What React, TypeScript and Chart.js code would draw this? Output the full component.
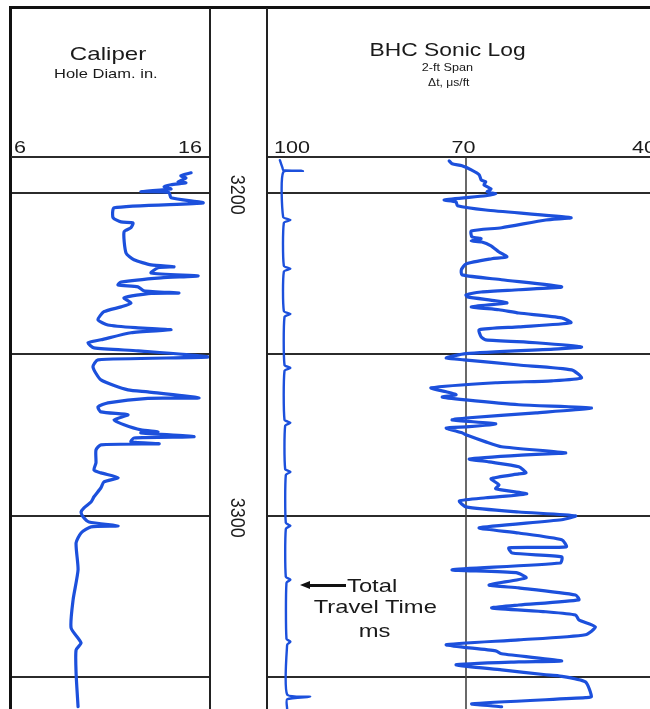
import React, { useEffect, useRef } from "react";
import { Chart, registerables } from "chart.js";

Chart.register(...registerables);

// ---------- data ----------
const DEPTH_TOP = 3188.9;
const DEPTH_BOTTOM = 3359.8;
const GRID_DEPTHS = [3200, 3250, 3300, 3350];
const DEPTH_LABELS = [3200, 3300];
const CALIPER_MIN = 6;
const CALIPER_MAX = 16;
const SONIC_LEFT = 100;
const SONIC_RIGHT_VISIBLE = 42.12; // track runs 100 -> 40, right edge cropped
const SONIC_GRID = [70];
const CALIPER_TICKS = ["6", "16"];
const SONIC_TICKS = ["100", "70", "40"];

const caliperDepth = [3193.8, 3194.7, 3195.4, 3196.6, 3196.9, 3197.5, 3198.1, 3198.8, 3199.6, 3199.9, 3201.5, 3203.1, 3204.6, 3207.7, 3209.0, 3209.3, 3210.8, 3212.1, 3218.6, 3220.7, 3222.3, 3222.9, 3223.2, 3224.8, 3225.7, 3226.3, 3227.6, 3228.5, 3229.1, 3230.3, 3231.0, 3231.1, 3232.5, 3234.1, 3235.3, 3236.8, 3239.3, 3240.9, 3241.8, 3242.4, 3243.3, 3245.5, 3246.4, 3248.0, 3248.9, 3250.8, 3251.7, 3253.9, 3257.9, 3261.0, 3261.6, 3263.5, 3263.6, 3265.0, 3266.3, 3267.8, 3268.7, 3270.3, 3271.8, 3273.4, 3274.0, 3274.3, 3275.5, 3275.9, 3277.1, 3277.7, 3278.0, 3279.6, 3283.6, 3285.8, 3286.7, 3288.2, 3289.5, 3291.3, 3294.1, 3295.7, 3297.5, 3298.8, 3300.3, 3301.9, 3303.1, 3303.4, 3305.3, 3308.4, 3316.7, 3326.0, 3334.7, 3339.3, 3341.5, 3348.6, 3359.1];
const caliperValue = [15.05, 14.54, 14.79, 14.39, 14.79, 14.04, 13.69, 14.04, 12.53, 13.94, 14.04, 15.65, 11.18, 11.13, 11.53, 12.13, 12.03, 11.68, 11.78, 12.18, 13.04, 14.19, 13.39, 13.04, 15.40, 13.54, 11.53, 11.38, 12.38, 12.68, 14.44, 13.04, 11.68, 12.03, 11.53, 10.67, 10.37, 10.87, 12.38, 14.04, 12.03, 10.52, 9.87, 10.17, 12.38, 15.90, 10.37, 10.12, 10.52, 11.88, 12.88, 15.45, 12.88, 10.87, 10.37, 10.52, 11.88, 11.18, 11.68, 12.53, 13.39, 12.53, 15.20, 12.18, 12.03, 13.44, 10.52, 10.27, 10.27, 10.17, 10.52, 11.38, 10.67, 10.52, 10.17, 10.02, 9.67, 9.52, 9.62, 9.92, 11.38, 10.02, 9.52, 9.27, 9.37, 9.12, 9.02, 9.52, 9.27, 9.27, 9.37];

const sonicDepth = [3190.1, 3191.0, 3191.6, 3192.9, 3194.4, 3196.0, 3196.6, 3197.5, 3198.8, 3199.7, 3200.3, 3200.9, 3202.2, 3202.8, 3204.0, 3205.3, 3207.7, 3208.4, 3210.8, 3211.8, 3213.6, 3214.2, 3214.9, 3215.2, 3216.4, 3218.3, 3219.8, 3220.4, 3222.0, 3223.8, 3225.4, 3226.9, 3229.1, 3230.0, 3230.7, 3231.6, 3232.2, 3233.4, 3234.1, 3235.3, 3236.2, 3237.2, 3238.7, 3240.2, 3241.5, 3242.4, 3244.6, 3245.5, 3246.4, 3247.7, 3248.3, 3249.8, 3251.1, 3251.7, 3253.3, 3254.8, 3257.3, 3258.2, 3258.8, 3260.4, 3261.6, 3262.5, 3263.2, 3264.1, 3265.6, 3266.6, 3268.1, 3269.7, 3270.3, 3271.5, 3272.4, 3272.8, 3274.3, 3274.9, 3277.1, 3278.6, 3280.5, 3281.1, 3282.4, 3283.3, 3284.8, 3286.7, 3287.0, 3288.5, 3290.4, 3291.6, 3293.2, 3294.4, 3295.4, 3297.2, 3298.8, 3300.0, 3301.2, 3303.7, 3305.3, 3307.4, 3309.6, 3309.9, 3311.5, 3312.7, 3314.6, 3316.7, 3317.6, 3319.2, 3321.4, 3322.3, 3324.5, 3326.0, 3327.6, 3328.5, 3329.7, 3330.7, 3332.2, 3334.4, 3336.8, 3338.4, 3339.9, 3341.8, 3342.7, 3344.9, 3345.2, 3346.1, 3347.7, 3349.2, 3349.5, 3351.4, 3356.0, 3356.3, 3358.2, 3359.1];
const sonicValue = [72.55, 72.1, 70.6, 69.2, 68.0, 67.7, 67.0, 67.3, 66.2, 66.8, 65.5, 67.0, 73.3, 71.5, 71.3, 67.0, 54.1, 57.9, 64.6, 69.2, 69.1, 67.7, 69.2, 67.6, 66.2, 65.0, 63.8, 66.1, 70.0, 70.7, 70.6, 64.6, 55.5, 62.0, 67.7, 70.0, 69.8, 65.5, 63.8, 69.2, 65.0, 62.0, 55.5, 54.1, 62.0, 68.0, 67.7, 67.0, 59.4, 52.5, 56.0, 70.0, 73.0, 70.3, 62.0, 54.0, 52.5, 57.0, 65.5, 75.3, 73.0, 71.5, 73.6, 70.0, 62.0, 51.0, 59.4, 70.0, 72.1, 65.5, 69.5, 73.0, 70.6, 70.0, 67.0, 64.6, 54.9, 60.9, 69.5, 66.5, 62.0, 60.9, 62.0, 66.2, 65.0, 65.5, 60.8, 67.0, 71.0, 70.0, 62.0, 53.4, 55.5, 68.0, 62.0, 55.5, 54.8, 63.5, 63.0, 55.5, 55.7, 72.1, 62.4, 60.9, 66.5, 62.0, 53.4, 52.9, 62.0, 66.1, 57.9, 53.4, 52.9, 50.4, 51.9, 62.0, 73.0, 65.5, 64.6, 55.5, 62.0, 71.5, 64.6, 57.9, 56.0, 51.9, 51.0, 51.9, 69.1, 64.6];

const tttDepth = [3189.9, 3192.3, 3193.0, 3193.2, 3193.6, 3207.5, 3208.4, 3209.3, 3222.6, 3223.5, 3224.4, 3236.6, 3237.5, 3238.4, 3253.3, 3254.2, 3255.1, 3270.3, 3271.2, 3272.1, 3285.5, 3286.4, 3287.3, 3302.2, 3303.1, 3304.0, 3318.9, 3319.8, 3320.7, 3338.1, 3339.0, 3339.9, 3355.3, 3356.0, 3356.8, 3359.8];
const tttValue = [98.2, 97.8, 97.7, 94.7, 97.7, 97.7, 96.6, 97.6, 97.6, 96.6, 97.6, 97.6, 96.6, 97.5, 97.5, 96.6, 97.5, 97.5, 96.6, 97.4, 97.4, 96.6, 97.3, 97.3, 96.6, 97.3, 97.3, 96.6, 97.2, 97.2, 96.6, 97.1, 97.1, 93.6, 97.1, 97.1];

// ---------- styles ----------
const CURVE = "#1c50dc";
const GRID = "#2b2b2b";
const FONT = '"Liberation Sans", Arial, Helvetica, sans-serif';
const STRETCH = 1.27;

function gridPlugin(vLines: number[]) {
  return {
    id: "logGrid",
    beforeDatasetsDraw(chart: any) {
      const { ctx, chartArea: a, scales } = chart;
      ctx.save();
      ctx.strokeStyle = GRID;
      ctx.lineWidth = 2;
      for (const d of GRID_DEPTHS) {
        const y = Math.round(scales.y.getPixelForValue(d));
        ctx.beginPath();
        ctx.moveTo(a.left, y);
        ctx.lineTo(a.right, y);
        ctx.stroke();
      }
      ctx.strokeStyle = "#444";
      ctx.lineWidth = 1.6;
      for (const v of vLines) {
        const x = Math.round(scales.x.getPixelForValue(v));
        ctx.beginPath();
        ctx.moveTo(x, a.top);
        ctx.lineTo(x, a.bottom);
        ctx.stroke();
      }
      ctx.restore();
    },
  };
}

const depthLabelPlugin = {
  id: "depthLabels",
  afterDraw(chart: any) {
    const { ctx, chartArea: a, scales } = chart;
    ctx.save();
    ctx.fillStyle = "#1a1a1a";
    ctx.font = `18px ${FONT}`;
    ctx.textAlign = "center";
    ctx.textBaseline = "middle";
    for (const d of DEPTH_LABELS) {
      const y = scales.y.getPixelForValue(d) + 2;
      const x = (a.left + a.right) / 2 - 3;
      ctx.save();
      ctx.translate(x, y);
      ctx.rotate(Math.PI / 2);
      ctx.scale(1, 1.1);
      ctx.fillText(String(d), 0, 0);
      ctx.restore();
    }
    ctx.restore();
  },
};

function curve(depth: number[], value: number[], width: number) {
  return {
    data: depth.map((d, i) => ({ x: value[i], y: d })),
    showLine: true,
    borderColor: CURVE,
    backgroundColor: CURVE,
    borderWidth: width,
    pointRadius: 0,
    tension: 0.2,
    fill: false,
    borderJoinStyle: "round",
    borderCapStyle: "round",
  };
}

function baseOptions(xMin: number, xMax: number, reverseX: boolean) {
  return {
    responsive: false,
    animation: false,
    devicePixelRatio: 1,
    events: [],
    layout: { padding: 0 },
    plugins: { legend: { display: false }, tooltip: { enabled: false }, title: { display: false } },
    scales: {
      x: { type: "linear", display: false, min: xMin, max: xMax, reverse: reverseX },
      y: { type: "linear", display: false, min: DEPTH_TOP, max: DEPTH_BOTTOM, reverse: true },
    },
  };
}

function ChartCanvas(props: { left: number; top: number; width: number; height: number; build: () => any }) {
  const ref = useRef<HTMLCanvasElement | null>(null);
  useEffect(() => {
    const chart = new Chart(ref.current as HTMLCanvasElement, props.build());
    return () => chart.destroy();
  }, []);
  return (
    <canvas
      ref={ref}
      width={props.width}
      height={props.height}
      style={{ position: "absolute", left: props.left, top: props.top, width: props.width, height: props.height }}
    />
  );
}

function Label(props: { text: string; x: number; baseline: number; size: number; align?: "left" | "center" | "right"; stretch?: number }) {
  const { text, x, baseline, size } = props;
  const align = props.align || "center";
  const s = props.stretch ?? STRETCH;
  const top = baseline - size * 0.8465;
  const W = 400;
  const style: any = {
    position: "absolute",
    top,
    fontFamily: FONT,
    fontSize: size,
    lineHeight: `${size}px`,
    whiteSpace: "nowrap",
    color: "#1a1a1a",
    width: W,
    textAlign: align,
  };
  if (align === "center") style.left = x - W / 2;
  else if (align === "left") style.left = x;
  else style.left = x - W;
  const origin = align === "center" ? "50% 50%" : align === "left" ? "0% 50%" : "100% 50%";
  return (
    <div style={style}>
      <span style={{ display: "inline-block", transform: `scaleX(${s})`, transformOrigin: origin }}>{text}</span>
    </div>
  );
}

function Line(props: { left: number; top: number; width: number; height: number; color?: string }) {
  return (
    <div
      style={{
        position: "absolute",
        left: props.left,
        top: props.top,
        width: props.width,
        height: props.height,
        background: props.color || "#111",
      }}
    />
  );
}

export default function App() {
  const TOP = 157;
  const H = 709 - TOP;
  return (
    <div style={{ position: "absolute", left: 0, top: 0, width: 650, height: 709, overflow: "hidden", background: "#fff" }}>
      {/* Caliper track */}
      <ChartCanvas
        left={11}
        top={TOP}
        width={199}
        height={H}
        build={() => ({
          type: "scatter",
          data: { datasets: [curve(caliperDepth, caliperValue, 3.2)] },
          options: baseOptions(CALIPER_MIN, CALIPER_MAX, false),
          plugins: [gridPlugin([])],
        })}
      />
      {/* Depth track */}
      <ChartCanvas
        left={211}
        top={TOP}
        width={56}
        height={H}
        build={() => ({
          type: "scatter",
          data: { datasets: [] },
          options: baseOptions(0, 1, false),
          plugins: [depthLabelPlugin],
        })}
      />
      {/* Sonic track */}
      <ChartCanvas
        left={268}
        top={TOP}
        width={382}
        height={H}
        build={() => ({
          type: "scatter",
          data: { datasets: [curve(tttDepth, tttValue, 2.4), curve(sonicDepth, sonicValue, 3.2)] },
          options: baseOptions(SONIC_RIGHT_VISIBLE, SONIC_LEFT, true),
          plugins: [gridPlugin(SONIC_GRID)],
        })}
      />

      {/* frame */}
      <Line left={9} top={6} width={641} height={3} />
      <Line left={9} top={6} width={3} height={703} />
      <Line left={209} top={8} width={2} height={701} color="#222" />
      <Line left={266} top={8} width={2} height={701} color="#222" />
      <Line left={11} top={156} width={198} height={2} color={GRID} />
      <Line left={268} top={156} width={382} height={2} color={GRID} />

      {/* headers */}
      <Label text="Caliper" x={108} baseline={60} size={19} />
      <Label text="Hole Diam. in." x={106} baseline={78} size={13} />
      <Label text={CALIPER_TICKS[0]} x={14} baseline={153} size={17} align="left" />
      <Label text={CALIPER_TICKS[1]} x={202} baseline={153} size={17} align="right" />

      <Label text="BHC Sonic Log" x={448} baseline={56} size={18} />
      <Label text="2-ft Span" x={447} baseline={71} size={11} stretch={1.15} />
      <Label text="Δt, μs/ft" x={449} baseline={86} size={11} stretch={1.1} />
      <Label text={SONIC_TICKS[0]} x={274} baseline={153} size={17} align="left" />
      <Label text={SONIC_TICKS[1]} x={463} baseline={153} size={17} />
      <Label text={SONIC_TICKS[2]} x={632} baseline={153} size={17} align="left" />

      {/* annotation */}
      <div
        style={{
          position: "absolute",
          left: 300,
          top: 581,
          width: 0,
          height: 0,
          borderTop: "4px solid transparent",
          borderBottom: "4px solid transparent",
          borderRight: "10px solid #111",
        }}
      />
      <Line left={308} top={584} width={38} height={2.5} />
      <Label text="Total" x={347} baseline={592} size={19} align="left" stretch={1.25} />
      <Label text="Travel Time" x={375} baseline={613} size={19} stretch={1.25} />
      <Label text="ms" x={375} baseline={637} size={19} stretch={1.25} />
    </div>
  );
}
